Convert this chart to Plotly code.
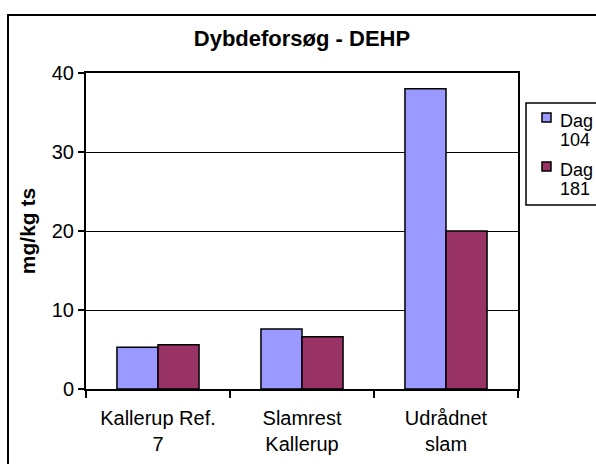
import plotly.graph_objects as go

# Sampling sites and measured DEHP concentrations (mg/kg ts)
categories = ["Kallerup Ref.<br>7", "Slamrest<br>Kallerup", "Udrådnet<br>slam"]
dag_104 = [5.3, 7.6, 38.0]
dag_181 = [5.6, 6.6, 20.0]
series_names = [["Dag", "104"], ["Dag", "181"]]
series_colors = ["#9999FF", "#993366"]
y_ticks = [0, 10, 20, 30, 40]

FONT = "Liberation Sans, Arial, sans-serif"
W, H = 596, 464
ML, MR, MT, MB = 86, 78, 73, 75
PW, PH = W - ML - MR, H - MT - MB


def px_x(x):
    return (x - ML) / PW


def px_y(y):
    return 1 - (y - MT) / PH


fig = go.Figure()
for name, vals, color in zip(series_names, [dag_104, dag_181], series_colors):
    fig.add_trace(go.Bar(
        x=categories, y=vals, name=" ".join(name), showlegend=False,
        marker=dict(color=color, line=dict(color="black", width=1.5)),
    ))

fig.update_layout(
    width=W, height=H,
    margin=dict(l=ML, r=MR, t=MT, b=MB, autoexpand=False),
    paper_bgcolor="white", plot_bgcolor="white",
    font=dict(family=FONT, color="black", size=20),
    barmode="group", bargap=0.43, bargroupgap=0,
    title=dict(text="<b>Dybdeforsøg - DEHP</b>", x=(192 + 412) / 2 / W,
               xanchor="center", y=1 - 38 / H, yanchor="middle",
               font=dict(size=22)),
    showlegend=False,
)

fig.update_xaxes(
    showline=True, linecolor="black", linewidth=2, mirror=True,
    ticks="outside", tickson="boundaries", ticklen=7, tickwidth=2,
    tickcolor="black", showgrid=False, tickfont=dict(size=20),
    ticklabelstandoff=10,
)
fig.update_yaxes(
    range=[0, 40], tickvals=y_ticks,
    showline=True, linecolor="black", linewidth=2, mirror=True,
    ticks="outside", ticklen=6, tickwidth=2, tickcolor="black",
    showgrid=True, gridcolor="black", gridwidth=1, zeroline=False,
    tickfont=dict(size=20),
    title=dict(text="<b>mg/kg ts</b>", font=dict(size=21), standoff=10),
)

# Chart-area frame
fig.add_shape(type="rect", xref="paper", yref="paper",
              x0=px_x(8), x1=px_x(605), y0=px_y(480), y1=px_y(15),
              line=dict(color="black", width=2), fillcolor="rgba(0,0,0,0)",
              layer="below")

# Legend box with compact two-line entries
fig.add_shape(type="rect", xref="paper", yref="paper",
              x0=px_x(526), x1=px_x(602), y0=px_y(205), y1=px_y(103),
              line=dict(color="black", width=1.5), fillcolor="white")
for i, (lines, color) in enumerate(zip(series_names, series_colors)):
    top = 113 + 49 * i
    fig.add_shape(type="rect", xref="paper", yref="paper",
                  x0=px_x(542), x1=px_x(551), y0=px_y(top + 9), y1=px_y(top),
                  line=dict(color="black", width=1.5), fillcolor=color)
    for j, txt in enumerate(lines):
        fig.add_annotation(
            text=txt, xref="paper", yref="paper",
            x=px_x(558), y=px_y(top + 8 + 19 * j),
            xanchor="left", yanchor="middle", showarrow=False,
            font=dict(size=18), align="left",
        )

fig.write_html("out.html")
